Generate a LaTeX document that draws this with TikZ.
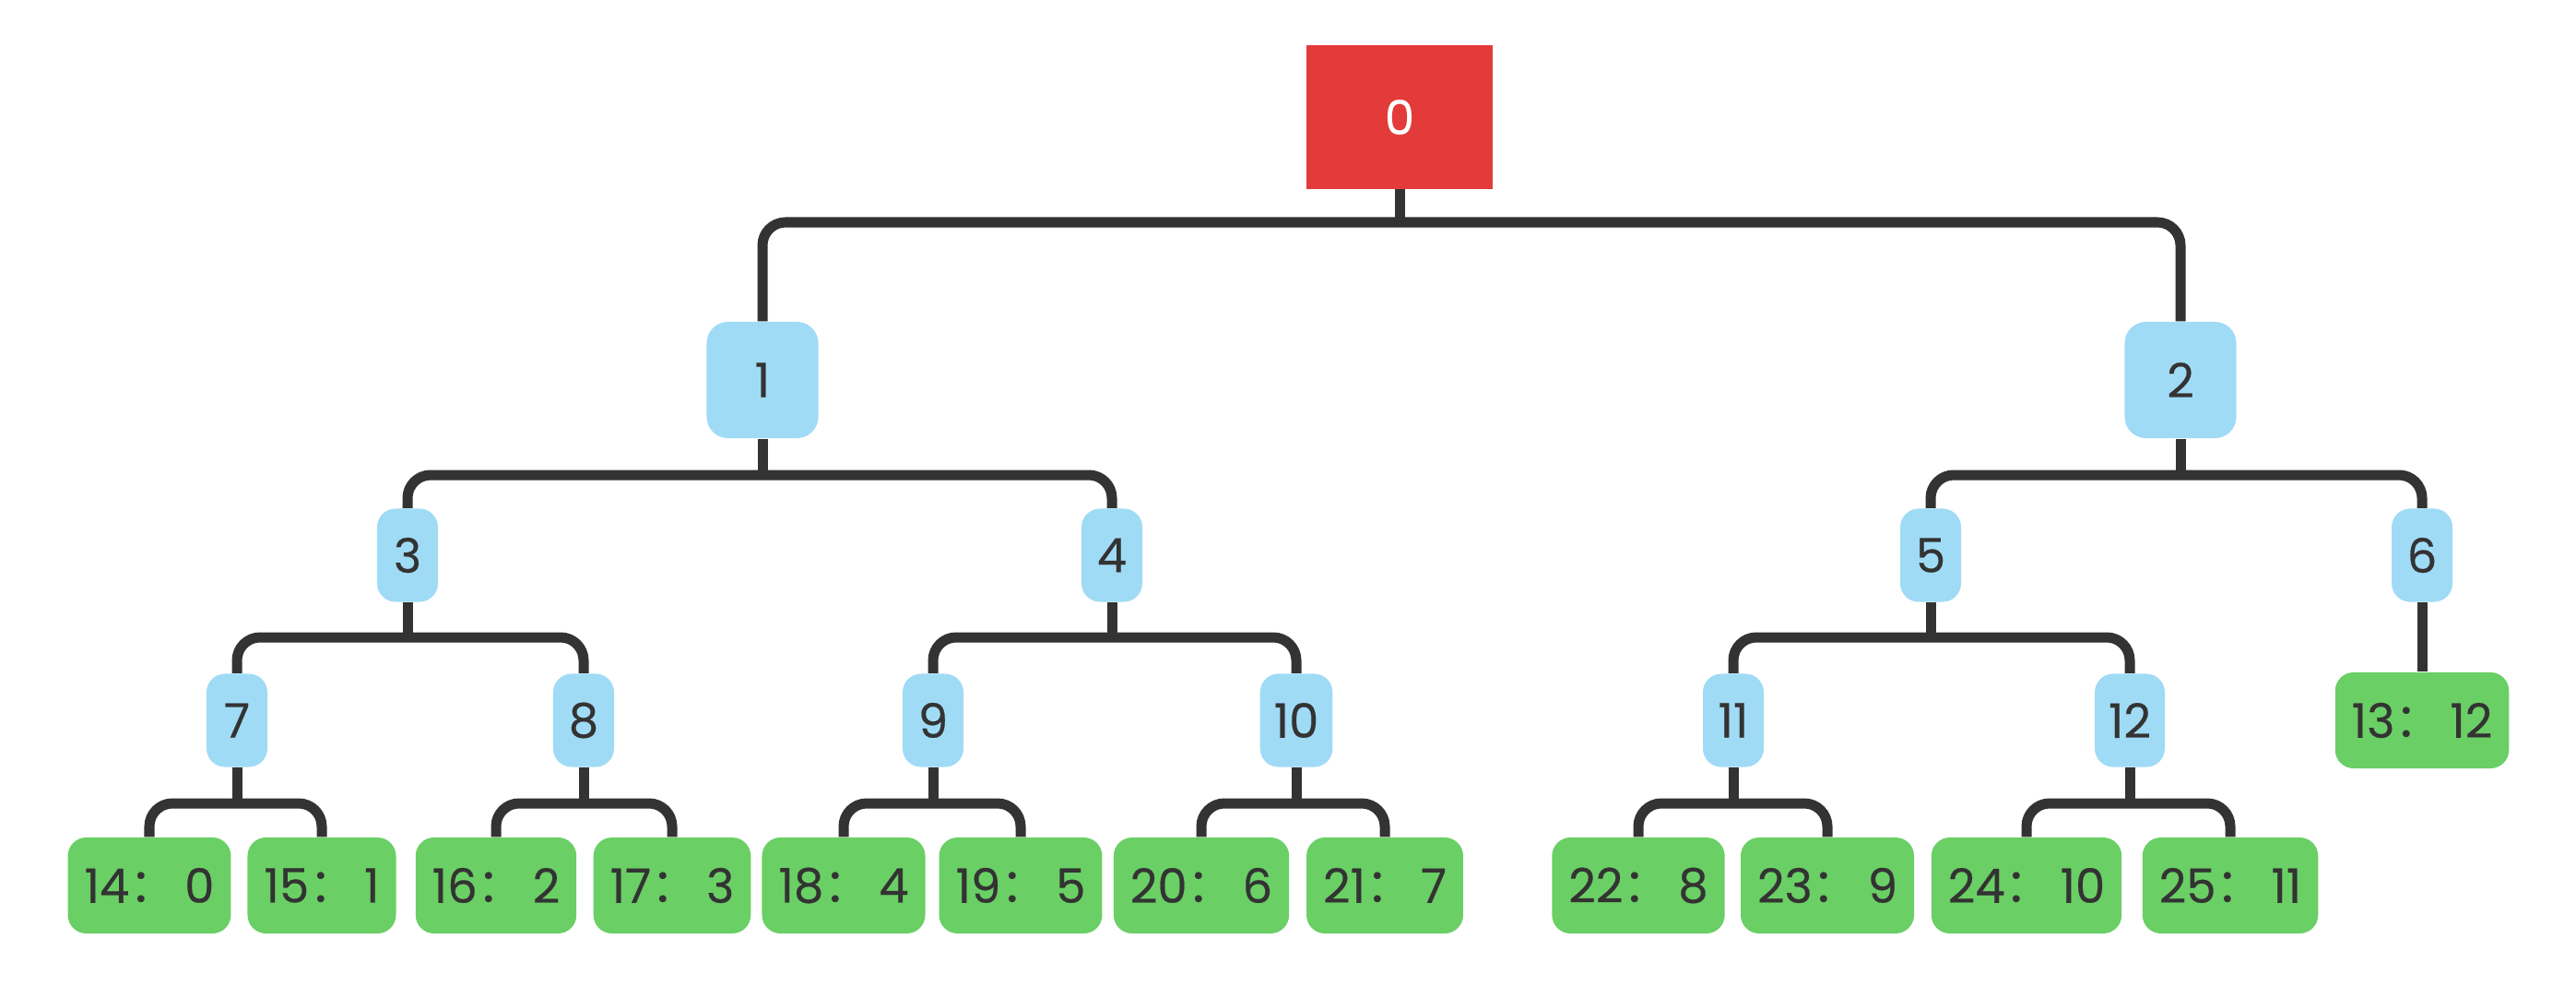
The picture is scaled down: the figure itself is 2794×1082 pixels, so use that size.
\documentclass[tikz,border=0pt]{standalone}
\usepackage{fontspec}
\setmainfont{Poppins}[FakeBold=0.4]
\newfontfamily\cjk{Noto Sans CJK SC}
\definecolor{rootred}{HTML}{E33B3A}
\definecolor{innerblue}{HTML}{A0DBF6}
\definecolor{leafgreen}{HTML}{6ACF65}
\definecolor{linkgray}{HTML}{333333}
\newcommand{\lbl}[2]{#1{\cjk ：}\,#2}

\begin{document}
\begin{tikzpicture}[x=0.01cm, y=-0.01cm,
    every node/.style={font=\fontsize{14.6pt}{17pt}\selectfont, text=linkgray, inner sep=0pt},
    rootbox/.style={fill=rootred, text=white, minimum width=2.01cm, minimum height=1.55cm},
    upperbox/.style={fill=innerblue, rounded corners=0.23cm, minimum width=1.21cm, minimum height=1.26cm},
    midbox/.style={fill=innerblue, rounded corners=0.2cm, inner xsep=0.15cm, minimum width=0.66cm, minimum height=1.01cm},
    leafbox/.style={fill=leafgreen, rounded corners=0.2cm, inner xsep=0.18cm, minimum height=1.04cm},
    link/.style={draw=linkgray, line width=0.11cm, rounded corners=0.25cm}]

\useasboundingbox (0,0) rectangle (2794,1082);

% ------------------------------------------------------------------
% === LEVELS (y of node centres and of the bus lines) ==============
\def\yRoot{127}  \def\yOne{412}  \def\yTwo{602}  \def\yThree{781}  \def\yLeaf{960}
\def\busA{241}   \def\busB{515}  \def\busC{691}  \def\busD{871}
% ==================================================================

% --- root ---------------------------------------------------------
\node[rootbox] (n0) at (1518,\yRoot) {0};

% --- first level --------------------------------------------------
\node[upperbox] (n1) at (827,\yOne)  {1};
\node[upperbox] (n2) at (2365,\yOne) {2};

% --- second level -------------------------------------------------
\node[midbox] (n3) at (442,\yTwo)  {3};
\node[midbox] (n4) at (1206,\yTwo) {4};
\node[midbox] (n5) at (2094,\yTwo) {5};
\node[midbox] (n6) at (2627,\yTwo) {6};

% --- third level --------------------------------------------------
\node[midbox] (n7)  at (257,\yThree)  {7};
\node[midbox] (n8)  at (633,\yThree)  {8};
\node[midbox] (n9)  at (1012,\yThree) {9};
\node[midbox] (n10) at (1406,\yThree) {10};
\node[midbox] (n11) at (1880,\yThree) {11};
\node[midbox] (n12) at (2310,\yThree) {12};
\node[leafbox] (n13) at (2627,\yThree) {\lbl{13}{12}};

% --- leaves -------------------------------------------------------
\node[leafbox] (n14) at (162,\yLeaf)  {\lbl{14}{0}};
\node[leafbox] (n15) at (349,\yLeaf)  {\lbl{15}{1}};
\node[leafbox] (n16) at (538,\yLeaf)  {\lbl{16}{2}};
\node[leafbox] (n17) at (729,\yLeaf)  {\lbl{17}{3}};
\node[leafbox] (n18) at (915,\yLeaf)  {\lbl{18}{4}};
\node[leafbox] (n19) at (1107,\yLeaf) {\lbl{19}{5}};
\node[leafbox] (n20) at (1303,\yLeaf) {\lbl{20}{6}};
\node[leafbox] (n21) at (1502,\yLeaf) {\lbl{21}{7}};
\node[leafbox] (n22) at (1777,\yLeaf) {\lbl{22}{8}};
\node[leafbox] (n23) at (1982,\yLeaf) {\lbl{23}{9}};
\node[leafbox] (n24) at (2198,\yLeaf) {\lbl{24}{10}};
\node[leafbox] (n25) at (2419,\yLeaf) {\lbl{25}{11}};

% --- links --------------------------------------------------------
\draw[link] (n0.south) -- (n0.south |- 0,\busA);
\draw[link] (n1.north) |- (n0.south |- 0,\busA) -| (n2.north);

\draw[link] (n1.south) -- (n1.south |- 0,\busB);
\draw[link] (n3.north) |- (n1.south |- 0,\busB) -| (n4.north);
\draw[link] (n2.south) -- (n2.south |- 0,\busB);
\draw[link] (n5.north) |- (n2.south |- 0,\busB) -| (n6.north);

\draw[link] (n3.south) -- (n3.south |- 0,\busC);
\draw[link] (n7.north) |- (n3.south |- 0,\busC) -| (n8.north);
\draw[link] (n4.south) -- (n4.south |- 0,\busC);
\draw[link] (n9.north) |- (n4.south |- 0,\busC) -| (n10.north);
\draw[link] (n5.south) -- (n5.south |- 0,\busC);
\draw[link] (n11.north) |- (n5.south |- 0,\busC) -| (n12.north);
\draw[link] (n6.south) -- (n13.north);

\draw[link] (n7.south) -- (n7.south |- 0,\busD);
\draw[link] (n14.north) |- (n7.south |- 0,\busD) -| (n15.north);
\draw[link] (n8.south) -- (n8.south |- 0,\busD);
\draw[link] (n16.north) |- (n8.south |- 0,\busD) -| (n17.north);
\draw[link] (n9.south) -- (n9.south |- 0,\busD);
\draw[link] (n18.north) |- (n9.south |- 0,\busD) -| (n19.north);
\draw[link] (n10.south) -- (n10.south |- 0,\busD);
\draw[link] (n20.north) |- (n10.south |- 0,\busD) -| (n21.north);
\draw[link] (n11.south) -- (n11.south |- 0,\busD);
\draw[link] (n22.north) |- (n11.south |- 0,\busD) -| (n23.north);
\draw[link] (n12.south) -- (n12.south |- 0,\busD);
\draw[link] (n24.north) |- (n12.south |- 0,\busD) -| (n25.north);

\end{tikzpicture}
\end{document}
